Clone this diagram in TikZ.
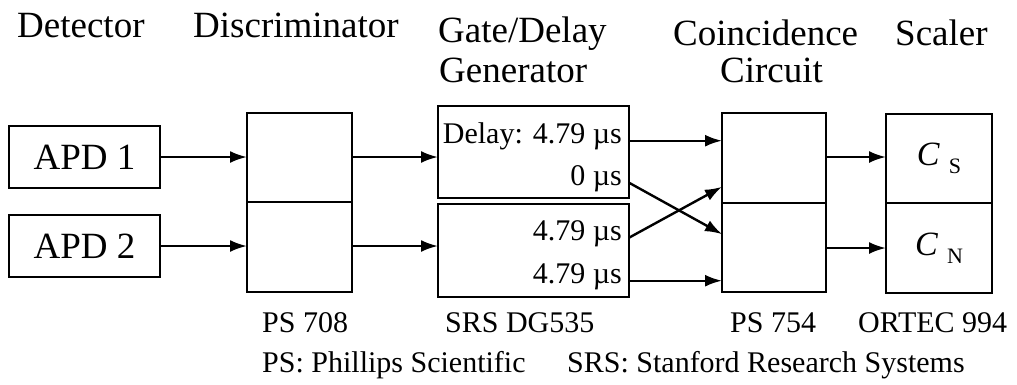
\documentclass[tikz,border=0pt]{standalone}
\usepackage{fontspec}
\setmainfont{Liberation Serif}
\usetikzlibrary{arrows.meta,calc}
\begin{document}
\begin{tikzpicture}[x=1pt,y=-1pt,
  box/.style={draw, line width=2.4pt, inner sep=0pt, outer sep=0pt, anchor=north west},
  big/.style={font=\fontsize{37}{40}\selectfont},
  small/.style={font=\fontsize{30}{34}\selectfont},
  head/.style={big, anchor=base west, inner sep=0pt},
  foot/.style={small, anchor=base west, inner sep=0pt},
  lbl/.style={small, anchor=base east, inner sep=0pt},
  arr/.style={line width=2.4pt, -{Latex[length=17pt,width=12pt]}}]
\useasboundingbox (0,0) rectangle (1017,384);
% headers
\node[head] (hdet) at (17,37) {Detector};
\node[head] (hdis) at (193,37) {Discriminator};
\node[head] (hgate) at (438,42) {Gate/Delay};
\node[head] (hgen) at (439,82) {Generator};
\node[head] (hcoi) at (673,45) {Coincidence};
\node[head] (hcir) at (720,82) {Circuit};
\node[head] (hsca) at (895,45) {Scaler};
% boxes
\node[box, big, minimum width=151pt, minimum height=62pt] (apd1) at (9,126) {APD 1};
\node[box, big, minimum width=151pt, minimum height=62pt] (apd2) at (9,215) {APD 2};
\node[box, minimum width=105pt, minimum height=89pt] (disc1) at (247,113) {};
\node[box, minimum width=105pt, minimum height=90pt] (disc2) at (247,202) {};
\node[box, minimum width=191pt, minimum height=92pt] (gate1) at (438,106) {};
\node[box, minimum width=191pt, minimum height=93pt] (gate2) at (438,204) {};
\node[box, minimum width=104pt, minimum height=90pt] (coin1) at (722,113) {};
\node[box, minimum width=104pt, minimum height=89pt] (coin2) at (722,203) {};
\node[box, font=\fontsize{34}{36}\selectfont, minimum width=106pt, minimum height=89pt] (scal1) at (886,114) {\textit{C}\hspace{9pt}\raisebox{-8pt}{\fontsize{22}{22}\selectfont S}};
\node[box, font=\fontsize{34}{36}\selectfont, minimum width=106pt, minimum height=90pt] (scal2) at (886,203) {\textit{C}\hspace{9pt}\raisebox{-8pt}{\fontsize{22}{22}\selectfont N}};
% gate labels
\node[lbl] (d1) at (622,143) {Delay: 4.79 µs};
\node[lbl] (d2) at (622,185) {0 µs};
\node[lbl] (d3) at (622,240) {4.79 µs};
\node[lbl] (d4) at (622,283) {4.79 µs};
% footers
\node[foot] (f1) at (262,332) {PS 708};
\node[foot] (f2) at (445,332) {SRS DG535};
\node[foot] (f3) at (730,332) {PS 754};
\node[foot] (f4) at (858,332) {ORTEC 994};
\node[foot] (f5) at (262,372) {PS: Phillips Scientific};
\node[foot] (f6) at (567,372) {SRS: Stanford Research Systems};
% connectors
\draw[arr] (apd1.east) -- (apd1.east -| disc1.west);
\draw[arr] (apd2.east) -- (apd2.east -| disc2.west);
\draw[arr] (disc1.east |- apd1.east) -- (apd1.east -| gate1.west);
\draw[arr] (disc2.east |- apd2.east) -- (apd2.east -| gate2.west);
\draw[arr] (d1.mid -| gate1.east) -- (d1.mid -| coin1.west);
\draw[arr] (d2.mid -| gate1.east) -- ($(coin2.north west)!0.35!(coin2.south west)$);
\draw[arr] (d3.mid -| gate2.east) -- ($(coin1.north west)!0.82!(coin1.south west)$);
\draw[arr] (d4.mid -| gate2.east) -- (d4.mid -| coin2.west);
\draw[arr] (coin1.east |- apd1.east) -- (apd1.east -| scal1.west);
\draw[arr] (coin2.east |- scal2.center) -- (scal2.west);
\end{tikzpicture}
\end{document}
